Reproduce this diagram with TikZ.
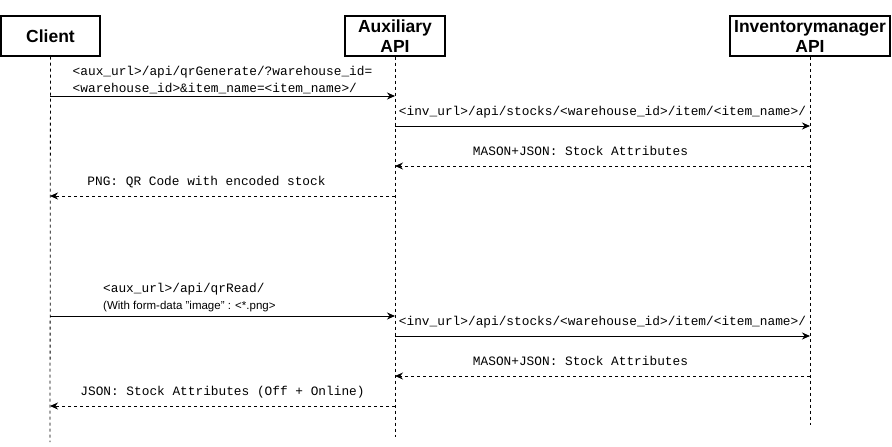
\documentclass[tikz,border=0pt]{standalone}
\usepackage{fontspec}
\setmainfont{Liberation Sans}
\setmonofont{Liberation Mono}
\usetikzlibrary{arrows.meta}

\begin{document}
\begin{tikzpicture}[x=1pt,y=-1pt,
                    actor/.style={draw,line width=1.1pt,minimum height=40pt,
                                  inner sep=0pt,align=center,
                                  font=\fontsize{17.5}{20}\selectfont\bfseries},
                    lifeline/.style={line width=0.8pt,dash pattern=on 3pt off 3pt},
                    call/.style={line width=1pt,-{Stealth[length=8pt,width=7pt]}},
                    reply/.style={call,dash pattern=on 3pt off 3pt},
                    msg/.style={font=\fontsize{12.8}{17}\selectfont\ttfamily,
                                align=left,inner sep=1pt},
                    over/.style={msg,above=6pt,text height=9pt,text depth=3pt}]

  \useasboundingbox (0,0) rectangle (892,447);

  % actors
  \node[actor,minimum width=99pt]  (client) at (50.5,36) {Client};
  \node[actor,minimum width=100pt] (aux)    at (395,36)  {Auxiliary\\API};
  \node[actor,minimum width=160pt] (inv)    at (810,36)  {Inventorymanager\\API};

  \coordinate (client end) at (50,442);
  \coordinate (aux end)    at (395,437);
  \coordinate (inv end)    at (810,425);

  \draw[lifeline] (client) -- (client end);
  \draw[lifeline] (aux)    -- (aux end);
  \draw[lifeline] (inv)    -- (inv end);

  % message levels on the lifelines
  \foreach \lvl/\y in {m1/96,m2/126,m3/166,m4/196,m5/316,m6/336,m7/376,m8/406}{
    \coordinate (client-\lvl) at (50,\y);
    \coordinate (aux-\lvl)    at (395,\y);
    \coordinate (inv-\lvl)    at (810,\y);
  }

  % QR generation
  \draw[call] (client-m1) -- node[msg,above=1pt]
    {<aux\_url>/api/qrGenerate/?warehouse\_id=\\<warehouse\_id>\&item\_name=<item\_name>/} (aux-m1);
  \draw[call] (aux-m2) -- node[over]
    {<inv\_url>/api/stocks/<warehouse\_id>/item/<item\_name>/} (inv-m2);
  \draw[reply] (inv-m3) -- node[over,xshift=-22pt]
    {MASON+JSON: Stock Attributes} (aux-m3);
  \draw[reply] (aux-m4) -- node[over,xshift=-16pt]
    {PNG: QR Code with encoded stock} (client-m4);

  % QR reading
  \draw[call] (client-m5) -- (aux-m5);
  \node[msg,anchor=south west,xshift=52pt,yshift=3pt] (read label) at (client-m5)
    {<aux\_url>/api/qrRead/\\{\fontsize{11.5}{13}\selectfont\rmfamily (With form-data \symbol{34}image\symbol{34} : <*.png>}};
  \draw[call] (aux-m6) -- node[over]
    {<inv\_url>/api/stocks/<warehouse\_id>/item/<item\_name>/} (inv-m6);
  \draw[reply] (inv-m7) -- node[over,xshift=-22pt]
    {MASON+JSON: Stock Attributes} (aux-m7);
  \draw[reply] (aux-m8) -- node[over]
    {JSON: Stock Attributes (Off + Online)} (client-m8);
\end{tikzpicture}
\end{document}
